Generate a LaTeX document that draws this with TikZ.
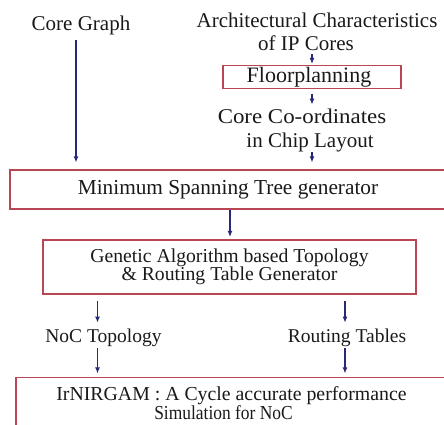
\documentclass[tikz,border=0pt]{standalone}
\usepackage{fontspec}
\usepackage{graphicx}
\setmainfont{Liberation Serif}
\usetikzlibrary{arrows.meta}
\definecolor{boxred}{RGB}{185,70,85}
\definecolor{arrblue}{RGB}{40,40,120}
\definecolor{txt}{RGB}{25,25,25}
\tikzset{
  lbl/.style={inner sep=0pt, text=txt, font=\fontsize{21}{23}\selectfont, align=center},
  lblsm/.style={lbl, font=\fontsize{19.5}{18}\selectfont},
  bx/.style={draw=boxred, line width=1.2pt, inner sep=0pt, text=txt, align=center},
  arr/.style={draw=arrblue, line width=1.1pt, -{Latex[length=6pt,width=5pt]}}
}
\begin{document}
\begin{tikzpicture}[x=1pt,y=-1pt]
\useasboundingbox (0,0) rectangle (444,424);
\clip (0,0) rectangle (444,424);
% texts
\node[lbl, anchor=base] (cg) at (81,30) {Core Graph};
\node[lbl, anchor=base] (arch1) at (317,27) {Architectural Characteristics};
\node[lbl, anchor=base] (arch2) at (306,50) {of IP Cores};
\node[bx, minimum width=178pt, minimum height=23pt, font=\fontsize{22}{23}\selectfont] (fp) at (312,77) {\hspace*{-6pt}Floorplanning};
\node[lbl, anchor=base] (cc1) at (302,123) {\scalebox{1.09}[1]{Core Co-ordinates}};
\node[lbl, anchor=base] (cc2) at (310,147) {in Chip Layout};
\node[bx, minimum width=436pt, minimum height=39pt, font=\fontsize{21.3}{23}\selectfont] (mst) at (228,189.5) {Minimum Spanning Tree generator};
\node[bx, minimum width=373pt, minimum height=54pt, font=\fontsize{19.7}{18}\selectfont] (ga) at (229.5,267) {Genetic Algorithm based Topology\\\& Routing Table Generator};
\node[lblsm, anchor=base] (noc) at (103.5,342) {NoC Topology};
\node[lblsm, anchor=base] (rt) at (347,342) {Routing Tables};
\node[bx, minimum width=431pt, minimum height=51.5pt, font=\fontsize{19.8}{18}\selectfont] (ir) at (231.5,403.25) {IrNIRGAM : A Cycle accurate performance\\\hspace*{-16pt}\scalebox{0.88}[1]{Simulation for NoC}};
% arrows
\draw[arr, shorten <=5.4pt, shorten >=7pt] ([xshift=-5pt]cg.south) -- ([xshift=-5pt]cg.south |- mst.north);
\draw[arr, shorten <=4pt, shorten >=1pt] (fp.north |- arch2.south) -- (fp.north);
\draw[arr, shorten <=4.5pt, shorten >=3.7pt] (fp.south) -- (fp.south |- cc1.north);
\draw[arr, shorten <=0.5pt, shorten >=7pt] (fp.south |- cc2.south) -- (fp.south |- mst.north);
\draw[arr, shorten >=2.5pt] ([xshift=2pt]mst.south) -- ([xshift=2pt]mst.south |- ga.north);
\draw[arr, shorten <=6pt, shorten >=5.7pt] (ga.south -| 97.5,0) -- (noc.north -| 97.5,0);
\draw[arr, shorten <=6pt, shorten >=5.7pt] (ga.south -| 345,0) -- (rt.north -| 345,0);
\draw[arr, shorten <=2pt, shorten >=3.5pt] (noc.south -| 97.5,0) -- (ir.north -| 97.5,0);
\draw[arr, shorten <=2pt, shorten >=3.5pt] (rt.south -| 345,0) -- (ir.north -| 345,0);
\end{tikzpicture}
\end{document}
